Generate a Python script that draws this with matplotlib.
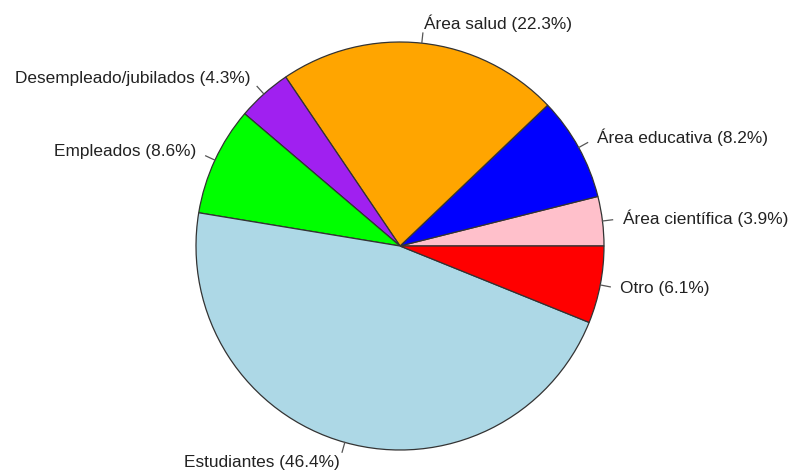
import numpy as np
import matplotlib.pyplot as plt

plt.rcParams['font.family'] = ['Liberation Sans', 'DejaVu Sans']

categorias = ['Área científica', 'Área educativa', 'Área salud',
              'Desempleado/jubilados', 'Empleados', 'Estudiantes', 'Otro']
porcentajes = [3.9, 8.2, 22.3, 4.3, 8.6, 46.4, 6.1]
colores = ['pink', 'blue', 'orange', '#A020F0', '#00FF00', 'lightblue', 'red']

etiquetas = ['%s (%.1f%%)' % (c, p) for c, p in zip(categorias, porcentajes)]

fig = plt.figure(figsize=(7.91, 4.74), dpi=100)
ax = fig.add_axes([0, 0, 1, 1])

wedges, texts = ax.pie(porcentajes, labels=etiquetas, colors=colores,
                       startangle=0, counterclock=True, radius=1,
                       labeldistance=1.1,
                       wedgeprops=dict(edgecolor='#333333', linewidth=0.9),
                       textprops=dict(fontsize=12.4, color='#222222'))

# marcas cortas entre el borde y la etiqueta
for w in wedges:
    ang = np.deg2rad((w.theta1 + w.theta2) / 2)
    ax.plot([np.cos(ang), 1.05 * np.cos(ang)], [np.sin(ang), 1.05 * np.sin(ang)],
            color='#555555', lw=0.9)

r_px = 204
ax.set_aspect('auto')
ax.set_xlim(-400 / r_px, (791 - 400) / r_px)
ax.set_ylim(-228 / r_px, (474 - 228) / r_px)
ax.axis('off')

fig.savefig('out.png', dpi=100)
